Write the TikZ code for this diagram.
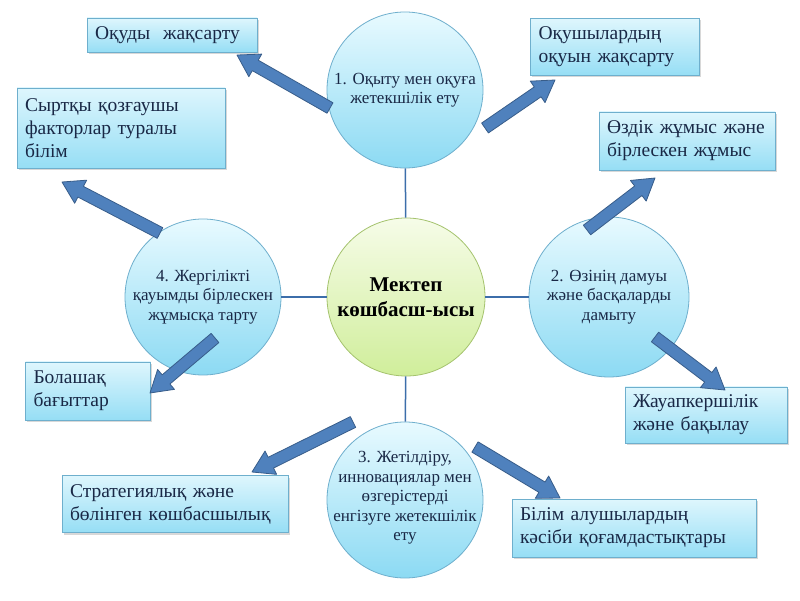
\documentclass[tikz,border=0pt]{standalone}
\usepackage{fontspec}
\setmainfont{Liberation Serif}
\usepackage{tikz}
\usetikzlibrary{calc, shadows}
\definecolor{palecyan}{RGB}{232, 250, 255}
\definecolor{deepcyan}{RGB}{140, 218, 243}
\definecolor{rimcyan}{RGB}{110, 175, 205}
\definecolor{boxtop}{RGB}{222, 246, 253}
\definecolor{boxbot}{RGB}{150, 222, 245}
\definecolor{palelime}{RGB}{246, 252, 232}
\definecolor{deeplime}{RGB}{208, 238, 155}
\definecolor{rimlime}{RGB}{165, 195, 110}
\definecolor{spokeblue}{RGB}{60, 110, 170}
\definecolor{arrowfill}{RGB}{79, 129, 189}
\definecolor{arrowrim}{RGB}{56, 93, 138}
\definecolor{navy}{RGB}{25, 40, 70}

\begin{document}
\begin{tikzpicture}[
   x=1pt, y=1pt,
   hubcirc/.style={circle, draw=rimlime, top color=palelime, bottom color=deeplime,
                   line width=0.8, text=black, align=center, inner sep=0,
                   font=\bfseries\fontsize{21}{25}\selectfont, minimum size=158},
   topiccirc/.style={circle, draw=rimcyan, top color=palecyan, bottom color=deepcyan,
                     line width=0.8, text=navy, align=center, inner sep=0,
                     font=\fontsize{17}{19.5}\selectfont, minimum size=156},
   notebox/.style={rectangle, draw=rimcyan, top color=boxtop, bottom color=boxbot,
                   line width=0.8, text=navy, align=left, inner sep=8,
                   font=\fontsize{19.5}{23}\selectfont,
                   drop shadow={shadow xshift=1.5, shadow yshift=-2, opacity=0.3}},
   spoke/.style={draw=spokeblue, line width=1.5},
   blockarrow/.style={fill=arrowfill, draw=arrowrim, line width=0.8, line join=round}
  ]

  % Arrow sizes
  \pgfmathsetmacro{\w}{6}
  \pgfmathsetmacro{\hw}{13}
  \pgfmathsetmacro{\h}{21}

  \fill[white] (0, 0) rectangle (800, 600);

  \node (C0) at (406, 303) [hubcirc] {Мектеп\\көшбасш-ысы};

  \node (C1) at (405, 510) [topiccirc] {1. Оқыту мен оқуға\\жетекшілік ету};
  \node (C2) at (609, 303) [topiccirc, minimum size=160] {2. Өзінің дамуы\\және басқаларды\\дамыту};
  % text kept in a zero-size box, so the circle keeps its size
  \node (C3) at (405, 100) [topiccirc] {\makebox[0pt]{\parbox[c][0pt][c]{152pt}{\centering
      3. Жетілдіру,\\инновациялар мен\\өзгерістерді\\енгізуге жетекшілік\\ету}}};
  \node (C4) at (203, 303) [topiccirc] {4. Жергілікті\\қауымды бірлескен\\жұмысқа тарту};

  \foreach \B/\E in {C1/C0, C0/C3, C4/C0, C0/C2} {
    \draw[spoke] (\B) -- (\E);
  }

  \node (B1) at (172, 565) [notebox, text width=154, minimum height=34] {Оқуды~ жақсарту};
  \node (B2) at (615, 553) [notebox, text width=153, minimum height=57] {Оқушылардың\\оқуын жақсарту};
  \node (B3) at (687, 459) [notebox, text width=160, minimum height=58] {Өздік жұмыс және\\бірлескен жұмыс};
  \node (B4) at (121, 472) [notebox, text width=192, minimum height=80] {Сыртқы қозғаушы\\факторлар туралы\\білім};
  \node (B5) at (88, 209) [notebox, text width=109, minimum height=58] {Болашақ\\бағыттар};
  \node (B6) at (706, 185) [notebox, text width=146, minimum height=56] {Жауапкершілік\\және бақылау};
  \node (B7) at (175, 96) [notebox, text width=210, minimum height=57] {Стратегиялық және\\бөлінген көшбасшылық};
  \node (B8) at (634, 72) [notebox, text width=228, minimum height=58] {Білім алушылардың\\кәсіби қоғамдастықтары};

  % Arrow ends
  \coordinate (A1) at (330, 492);  \coordinate (T1) at (237, 545);
  \coordinate (A2) at (485, 472);  \coordinate (T2) at (555, 520);
  \coordinate (A3) at (587, 370);  \coordinate (T3) at (655, 422);
  \coordinate (A4) at (160, 367);  \coordinate (T4) at (62, 418);
  \coordinate (A5) at (215, 262);  \coordinate (T5) at (150, 207);
  \coordinate (A6) at (655, 263);  \coordinate (T6) at (725, 210);
  \coordinate (A7) at (353, 178);  \coordinate (T7) at (252, 128);
  \coordinate (A8) at (475, 153);  \coordinate (T8) at (560, 102);

  \foreach \B/\E in {A1/T1, A2/T2, A3/T3, A4/T4, A5/T5, A6/T6, A7/T7, A8/T8} {
    \draw[blockarrow] let \p1 = ($(\E) - (\B)$), \n1 = {atan2(\y1, \x1)},
                          \n2 = {veclen(\x1, \y1)} in
      [shift={(\B)}, rotate=\n1]
      (0, -\w) -- (\n2 - \h, -\w) -- (\n2 - \h, -\hw) -- (\n2, 0)
      -- (\n2 - \h, \hw) -- (\n2 - \h, \w) -- (0, \w) -- cycle;
  }

\end{tikzpicture}
\end{document}
